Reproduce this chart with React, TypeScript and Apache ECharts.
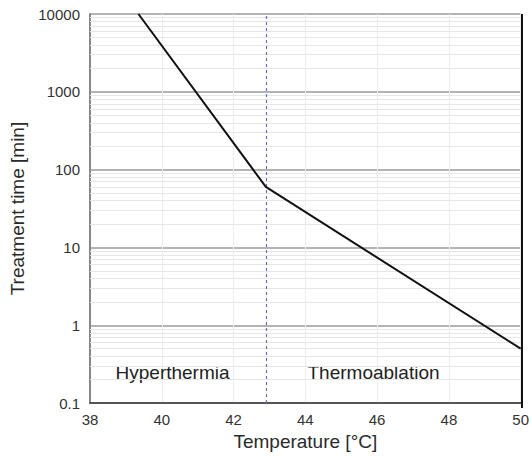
import React, { useEffect, useRef } from "react";
import * as echarts from "echarts";

// Thermal dose curve: treatment time needed vs. tissue temperature
const temperatures = [39.35, 42.9, 50];
const treatmentMinutes = [10000, 60, 0.5];

// Boundary between hyperthermia and thermoablation regimes
const regimeBoundary = 42.9;

// Region annotations (temperature, minutes)
const regionNames = ["Hyperthermia", "Thermoablation"];
const regionTemps = [40.3, 45.9];
const regionMinutes = [0.245, 0.245];

// Decades on the log time axis and the 2..9 sub-divisions between them
const decades = [0.1, 1, 10, 100, 1000, 10000];
const subSteps = [2, 3, 4, 5, 6, 7, 8, 9];

const FONT = "'Liberation Sans', Arial, sans-serif";

export default function App() {
  const ref = useRef<HTMLDivElement>(null);

  useEffect(() => {
    document.body.style.margin = "0";
    if (!ref.current) return;
    const chart = echarts.init(ref.current, null, { renderer: "svg" });

    const minorValues: number[] = [];
    decades.slice(0, -1).forEach((d) => subSteps.forEach((s) => minorValues.push(d * s)));

    chart.setOption({
      animation: false,
      backgroundColor: "#ffffff",
      grid: { left: 90, right: 10, top: 14, bottom: 48 },
      xAxis: {
        type: "value",
        min: 38,
        max: 50,
        interval: 2,
        name: "Temperature [°C]",
        nameLocation: "middle",
        nameGap: 20,
        nameTextStyle: { fontFamily: FONT, fontSize: 19, color: "#2a2a2a", verticalAlign: "top" },
        axisLine: { show: true, lineStyle: { color: "#555", width: 2 } },
        axisTick: { show: false },
        axisLabel: { fontFamily: FONT, fontSize: 15, color: "#333", margin: 9 },
        splitLine: { show: true, lineStyle: { color: "#ececec", width: 1 } },
      },
      yAxis: {
        type: "log",
        logBase: 10,
        min: 0.1,
        max: 10000,
        name: "Treatment time [min]",
        nameLocation: "middle",
        nameGap: 60,
        nameTextStyle: { fontFamily: FONT, fontSize: 19, color: "#2a2a2a" },
        axisLine: { show: true, lineStyle: { color: "#888", width: 2 } },
        axisTick: { show: false },
        axisLabel: {
          fontFamily: FONT,
          fontSize: 15,
          color: "#333",
          margin: 10,
          formatter: (v: number) => String(v),
        },
        splitLine: { show: true, lineStyle: { color: "#9a9a9a", width: 1.5 } },
      },
      series: [
        {
          // faint minor grid between decades
          type: "line",
          data: [],
          silent: true,
          markLine: {
            silent: true,
            symbol: "none",
            label: { show: false },
            lineStyle: { color: "#e6e6e6", width: 1, type: "solid" },
            data: minorValues.map((v) => ({ yAxis: v })),
          },
        },
        {
          type: "line",
          data: temperatures.map((t, i) => [t, treatmentMinutes[i]]),
          symbol: "none",
          lineStyle: { color: "#111", width: 2 },
          z: 5,
          markLine: {
            silent: true,
            symbol: "none",
            label: { show: false },
            lineStyle: { color: "#6c6cc4", width: 1.2, type: [3, 3] },
            data: [{ xAxis: regimeBoundary }],
          },
        },
        {
          type: "scatter",
          symbolSize: 0,
          silent: true,
          itemStyle: { opacity: 1 },
          data: regionNames.map((n, i) => ({ name: n, value: [regionTemps[i], regionMinutes[i]] })),
          label: {
            show: true,
            position: "inside",
            formatter: (p: any) => p.name,
            fontFamily: FONT,
            fontSize: 19,
            color: "#222",
            opacity: 1,
            textBorderWidth: 0,
          },
        },
      ],
      graphic: [
        {
          // right frame edge
          type: "line",
          shape: { x1: 522, y1: 14, x2: 522, y2: 408 },
          style: { stroke: "#111", lineWidth: 2 },
          z: 10,
        },
      ],
    });

    return () => chart.dispose();
  }, []);

  return <div ref={ref} style={{ width: 532, height: 456 }} />;
}
